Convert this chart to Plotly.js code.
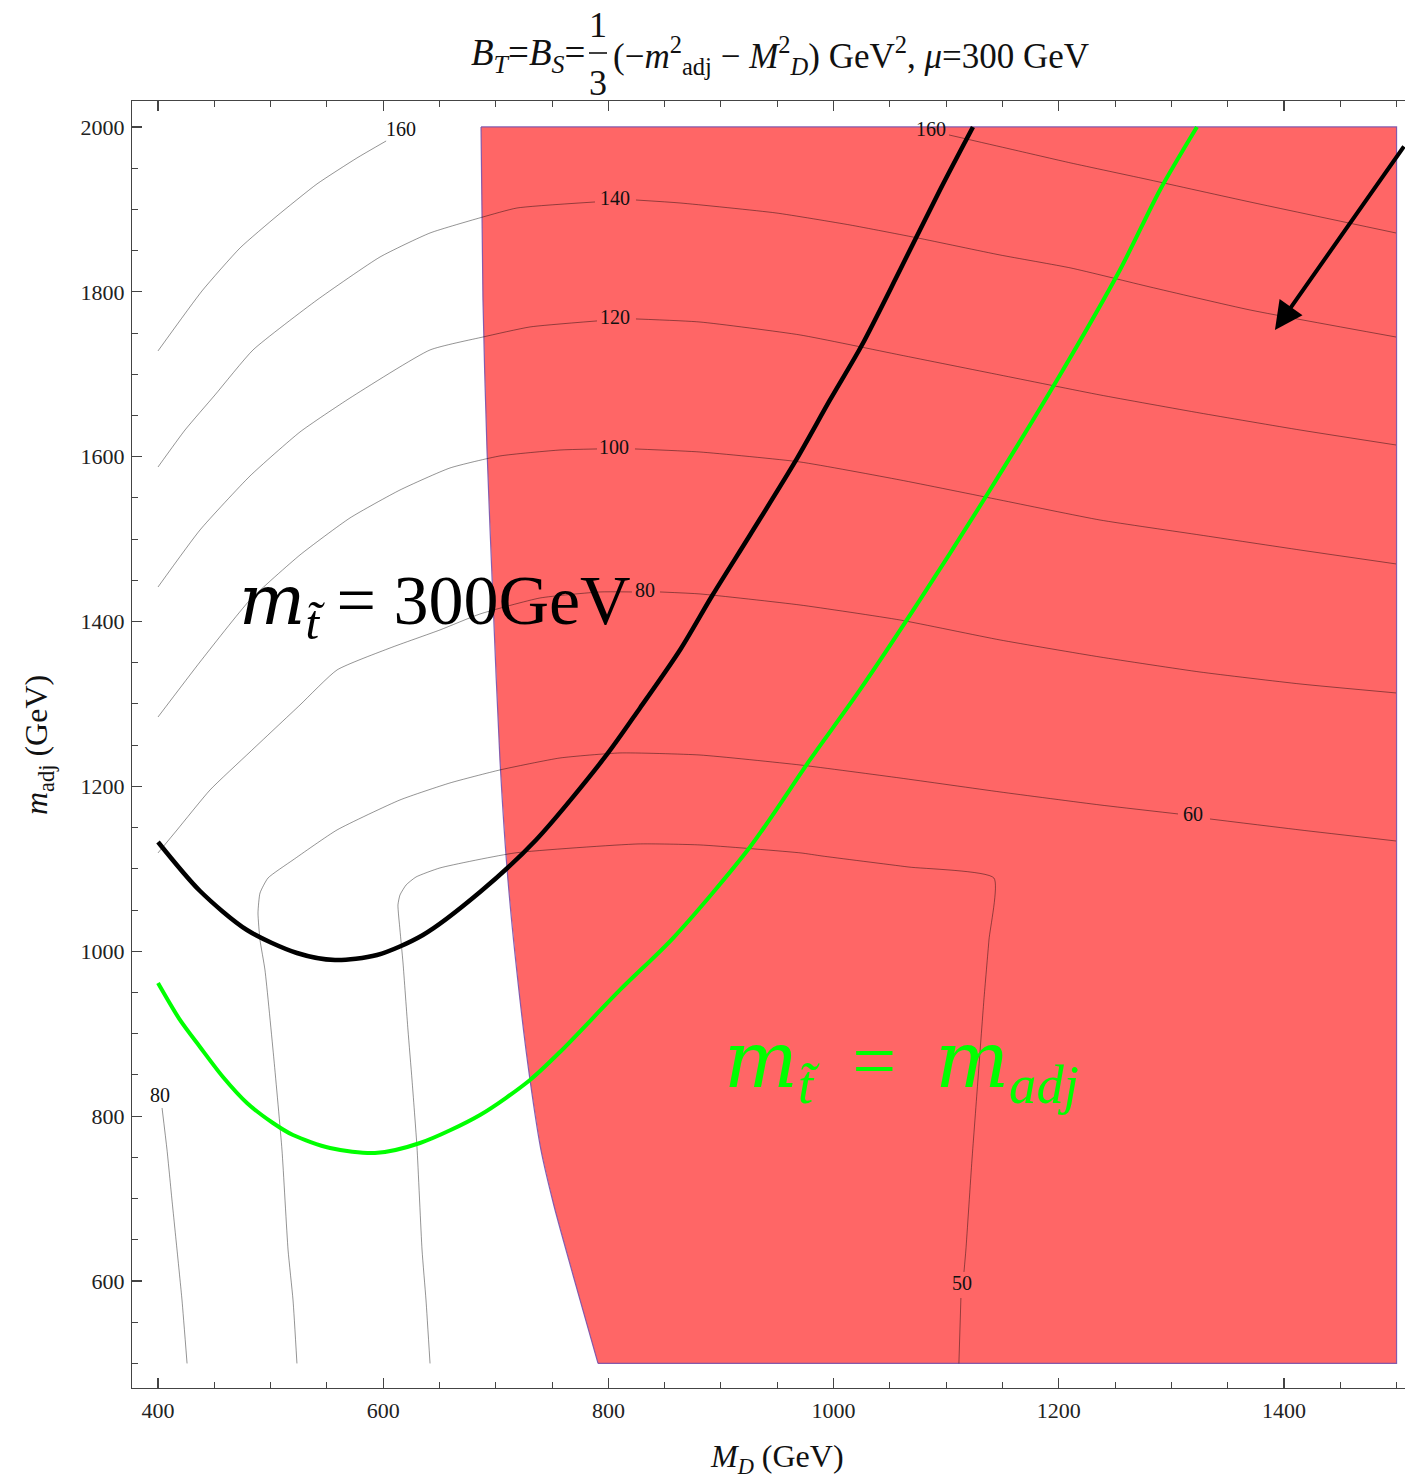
<!DOCTYPE html>
<html>
<head>
<meta charset="utf-8">
<script src="https://cdn.plot.ly/plotly-3.0.1.min.js"></script>
<style>html,body{margin:0;padding:0;background:#fff;}#chart{width:1405px;height:1480px;}</style>
</head>
<body>
<div id="chart"></div>
<script>
// ---------- data (GeV) ----------
// excluded (red) region: curved left boundary, then the straight corners
const exclEdgeX = [686.9, 688.6, 692.2, 697.5, 703.7, 710.8, 721.5, 730.4, 740.1, 751.5, 762.4, 774.8, 790.8];
const exclEdgeY = [2000, 1790.1, 1608.1, 1426.2, 1232.1, 1086.5, 940.9, 843.9, 759.0, 692.2, 637.6, 577.0, 500];
const exclCornerX = [790.8, 1500, 1500, 686.9];
const exclCornerY = [500, 500, 2000, 2000];

// m_stop = 300 GeV curve (black)
const stop300X = [400, 437.3, 479.0, 523.4, 557.2, 594.5, 635.3, 686.0, 735.7, 797.0, 828.1, 863.6, 892.0, 925.8, 965.7, 996.8, 1025.2, 1059.0, 1094.5, 1123.8];
const stop300Y = [1132.6, 1073.1, 1025.8, 997.9, 989.4, 995.5, 1019.8, 1071.9, 1135.0, 1235.7, 1295.2, 1365.5, 1431.0, 1505.0, 1593.6, 1668.8, 1735.5, 1826.5, 1923.6, 2000];

// m_stop = m_adj curve (green)
const stopAdjX = [400, 419.5, 437.3, 457.7, 479.0, 502.1, 519.9, 552.8, 592.7, 632.7, 686.0, 730.4, 757.0, 810.3, 858.3, 925.8, 979.0, 1023.4, 1076.7, 1138.9, 1201.1, 1254.3, 1289.9, 1322.7];
const stopAdjY = [961.5, 916.7, 883.9, 847.5, 816.0, 791.7, 777.1, 761.4, 755.3, 767.4, 801.4, 843.9, 877.8, 953.1, 1017.3, 1126.5, 1232.1, 1317.0, 1426.2, 1559.6, 1699.1, 1826.5, 1923.6, 2000];

// contour lines (Higgs mass, GeV)
const c160aX = [400, 439.1, 472.9, 505.7, 541.2, 576.7, 602.6];
const c160aY = [1728.3, 1801.1, 1853.3, 1892.1, 1930.9, 1962.4, 1983.0];
const c160bX = [1102.5, 1156.7, 1210.8, 1281.0, 1369.8, 1499.5];
const c160bY = [1990.3, 1973.3, 1956.3, 1935.7, 1909.0, 1871.4];
const c140X = [400, 424.0, 450.6, 484.4, 541.2, 597.2, 641.6, 688.6, 718.8, 788.1, null, 824.5, 863.6, 948.8, 1014.6, 1074.9, 1147.8, 1210.8, 1281.0, 1369.8, 1499.5];
const c140Y = [1587.5, 1632.4, 1674.9, 1729.5, 1790.1, 1842.3, 1871.4, 1890.8, 1901.7, 1909.0, null, 1911.4, 1907.8, 1895.7, 1881.1, 1865.3, 1844.7, 1828.9, 1805.9, 1778.0, 1745.2];
const c120X = [400, 437.3, 481.7, 526.1, 570.5, 641.6, 688.6, 730.4, 789.9, null, 824.5, 881.3, 970.2, 1059.0, 1147.8, 1236.6, 1325.4, 1414.2, 1499.5];
const c120Y = [1441.9, 1511.1, 1576.6, 1630.0, 1671.2, 1729.5, 1745.2, 1757.4, 1764.7, null, 1767.1, 1763.4, 1747.7, 1723.4, 1699.1, 1674.9, 1653.0, 1632.4, 1614.2];
const c100X = [400, 437.3, 481.7, 526.1, 570.5, 614.9, 659.3, 703.7, 757.0, 789.9, null, 823.6, 881.3, 970.2, 1059.0, 1147.8, 1236.6, 1325.4, 1414.2, 1499.5];
const c100Y = [1284.2, 1351.0, 1426.2, 1480.8, 1525.7, 1559.6, 1586.3, 1600.9, 1608.1, 1609.4, null, 1609.4, 1605.7, 1593.6, 1571.8, 1547.5, 1523.2, 1505.0, 1486.8, 1469.9];
const c80aX = [400, 416.9, 446.2, 481.7, 526.1, 559.0, 606.0, 650.4, 686.0, 739.3, 792.5, 820.9, null, 845.8, 881.3, 970.2, 1059.0, 1147.8, 1236.6, 1325.4, 1414.2, 1499.5];
const c80aY = [1119.3, 1147.2, 1195.7, 1241.8, 1298.8, 1341.3, 1367.9, 1389.8, 1409.2, 1428.6, 1435.9, 1435.9, null, 1435.9, 1433.5, 1420.1, 1401.9, 1377.7, 1357.0, 1338.8, 1324.3, 1313.4];
const c80bX = [403.6, 408.0, 412.4, 416.9, 421.3, 425.8];
const c80bY = [809.9, 759.0, 698.3, 637.6, 577.0, 500];
const c60X = [523.4, 519.9, 515.5, 510.1, 503.0, 495.0, 490.6, 488.8, 490.6, 497.7, 519.9, 559.0, 614.9, 659.3, 703.7, 757.0, 810.3, 881.3, 970.2, 1059.0, 1147.8, 1236.6, 1305.9, null, 1334.3, 1414.2, 1499.5];
const c60Y = [500, 577.0, 637.6, 759.0, 868.1, 977.3, 1013.7, 1046.5, 1070.7, 1088.9, 1110.8, 1147.2, 1183.6, 1204.2, 1220.0, 1234.5, 1240.6, 1238.1, 1226.0, 1210.2, 1193.3, 1177.5, 1166.6, null, 1160.5, 1147.2, 1133.8];
const c50X = [641.6, 638.0, 634.5, 630.0, 625.6, 622.0, 617.6, 614.9, 613.1, 614.9, 620.3, 629.1, 650.4, 717.0, 826.3, 881.3, 971.0, 989.7, 1066.1, 1142.4, 1138.0, 1133.5, 1128.2, 1122.9, 1117.5, 1115.8, null, 1113.1, 1111.3];
const c50Y = [500, 577.0, 637.6, 762.6, 843.9, 904.5, 985.8, 1025.8, 1056.2, 1068.3, 1080.4, 1090.1, 1101.1, 1119.3, 1130.2, 1129.0, 1119.3, 1115.6, 1102.3, 1088.9, 1013.7, 940.9, 843.9, 746.8, 637.6, 611.0, null, 579.4, 500];

// contour labels
const labelText = ["160", "160", "140", "120", "100", "80", "60", "50", "80"];
const labelX = [615.8, 1086.5, 805.9, 805.9, 805.0, 832.5, 1319.2, 1114.0, 401.8];
const labelY = [1995.1, 1995.1, 1911.4, 1767.1, 1609.4, 1435.9, 1164.1, 595.2, 823.2];

// arrow (head, tail)
const arrowHead = [1392.0, 1753.7];
const arrowTail = [1507.5, 1978.2];

// tick values
const xTicks = [400, 600, 800, 1000, 1200, 1400];
const yTicks = [600, 800, 1000, 1200, 1400, 1600, 1800, 2000];

// ---------- styles ----------
const SERIF = '"Liberation Serif", "Times New Roman", serif';
const WIDE = '"DejaVu Serif", serif';
const contourLine = {color: 'rgba(0,0,0,0.42)', width: 1, shape: 'spline', smoothing: 0.5};

function contour(x, y) {
  return {x: x, y: y, type: 'scatter', mode: 'lines', line: contourLine,
          hoverinfo: 'skip', showlegend: false, connectgaps: false};
}

const exclFillX = exclEdgeX.concat(exclCornerX.slice(1));
const exclFillY = exclEdgeY.concat(exclCornerY.slice(1));
const edgeColor = 'rgba(120,80,170,0.9)';

const traces = [
  {x: exclFillX, y: exclFillY, type: 'scatter', mode: 'lines', fill: 'toself',
   fillcolor: 'rgb(255,102,102)', line: {width: 0}, hoverinfo: 'skip', showlegend: false},
  {x: exclEdgeX, y: exclEdgeY, type: 'scatter', mode: 'lines',
   line: {color: edgeColor, width: 1.2, shape: 'spline', smoothing: 0.8}, hoverinfo: 'skip', showlegend: false},
  {x: exclCornerX, y: exclCornerY, type: 'scatter', mode: 'lines',
   line: {color: edgeColor, width: 1.2}, hoverinfo: 'skip', showlegend: false},
  contour(c160aX, c160aY),
  contour(c160bX, c160bY),
  contour(c140X, c140Y),
  contour(c120X, c120Y),
  contour(c100X, c100Y),
  contour(c80aX, c80aY),
  contour(c80bX, c80bY),
  contour(c60X, c60Y),
  contour(c50X, c50Y),
  {x: labelX, y: labelY, text: labelText, type: 'scatter', mode: 'text',
   textfont: {family: SERIF, size: 20, color: '#111'}, hoverinfo: 'skip', showlegend: false},
  {x: stop300X, y: stop300Y, type: 'scatter', mode: 'lines',
   line: {color: '#000', width: 4.5, shape: 'spline', smoothing: 0.8}, hoverinfo: 'skip', showlegend: false},
  {x: stopAdjX, y: stopAdjY, type: 'scatter', mode: 'lines',
   line: {color: '#00ff00', width: 4, shape: 'spline', smoothing: 0.8}, hoverinfo: 'skip', showlegend: false}
];

// paper-coordinate helpers for title pieces
const L = 132, W = 1273, T = 101, H = 1287;
const px = v => (v - L) / W;
const py = v => (T + H - v) / H;

const titleFont = {family: SERIF, size: 36, color: '#111'};
const mItal = '<span style="font-family:' + WIDE.replace(/"/g, "'") + '"><i>m</i></span>';

const layout = {
  width: 1405, height: 1480,
  margin: {l: L, r: 0, t: T, b: 1480 - T - H},
  paper_bgcolor: '#fff', plot_bgcolor: '#fff',
  showlegend: false,
  xaxis: {
    range: [376.9, 1507.5], tickvals: xTicks, showgrid: false, zeroline: false,
    showline: true, linecolor: '#444', linewidth: 1.2, mirror: 'ticks',
    ticks: 'inside', ticklen: 10, tickwidth: 1.2, tickcolor: '#444',
    minor: {ticks: 'inside', ticklen: 6, dtick: 50, tick0: 0, tickcolor: '#444', tickwidth: 1, showgrid: false},
    tickfont: {family: SERIF, size: 22, color: '#222'}, ticklabelstandoff: 2
  },
  yaxis: {
    range: [470.2, 2031.5], tickvals: yTicks, showgrid: false, zeroline: false,
    showline: true, linecolor: '#444', linewidth: 1.2, mirror: false,
    ticks: 'inside', ticklen: 10, tickwidth: 1.2, tickcolor: '#444',
    minor: {ticks: 'inside', ticklen: 6, dtick: 50, tick0: 0, tickcolor: '#444', tickwidth: 1, showgrid: false},
    tickfont: {family: SERIF, size: 22, color: '#222'}, ticklabelstandoff: 2
  },
  shapes: [
    {type: 'line', xref: 'paper', yref: 'paper', x0: px(589), x1: px(607), y0: py(53), y1: py(53),
     line: {color: '#111', width: 1.6}}
  ],
  annotations: [
    // title pieces
    {xref: 'paper', yref: 'paper', x: px(587), y: py(55), xanchor: 'right', yanchor: 'middle', showarrow: false,
     text: '<i>B</i><sub><i>T</i></sub>=<i>B</i><sub><i>S</i></sub>=', font: {family: SERIF, size: 37, color: '#111'}},
    {xref: 'paper', yref: 'paper', x: px(598), y: py(25), xanchor: 'center', yanchor: 'middle', showarrow: false,
     text: '1', font: titleFont},
    {xref: 'paper', yref: 'paper', x: px(598), y: py(83), xanchor: 'center', yanchor: 'middle', showarrow: false,
     text: '3', font: titleFont},
    {xref: 'paper', yref: 'paper', x: px(611), y: py(55), xanchor: 'left', yanchor: 'middle', showarrow: false,
     text: '(−<i>m</i><sup>2</sup><sub>adj</sub> − <i>M</i><sup>2</sup><sub><i>D</i></sub>) GeV<sup>2</sup>, <i>μ</i>=300 GeV', font: {family: SERIF, size: 35, color: '#111'}},
    // axis titles
    {xref: 'paper', yref: 'paper', x: px(777), y: py(1458), xanchor: 'center', yanchor: 'middle', showarrow: false,
     text: '<i>M</i><sub><i>D</i></sub> (GeV)', font: {family: SERIF, size: 32, color: '#111'}},
    {xref: 'paper', yref: 'paper', x: px(38), y: py(745), xanchor: 'center', yanchor: 'middle', showarrow: false,
     textangle: -90, text: '<i>m</i><sub>adj</sub> (GeV)', font: {family: SERIF, size: 32, color: '#111'}},
    // in-plot labels
    {xref: 'x', yref: 'y', x: 646.0, y: 1420.1, xanchor: 'center', yanchor: 'middle', showarrow: false,
     text: mItal + '<sub><i>t̃</i></sub> = 300GeV', font: {family: SERIF, size: 70, color: '#000'}},
    {xref: 'x', yref: 'y', x: 1060.7, y: 862.1, xanchor: 'center', yanchor: 'middle', showarrow: false,
     text: mItal + '<sub><i>t̃</i></sub>  =  ' + mItal + '<sub><i>adj</i></sub>', font: {family: SERIF, size: 78, color: '#00ff00'}},
    // arrow
    {xref: 'x', yref: 'y', axref: 'x', ayref: 'y', x: arrowHead[0], y: arrowHead[1], ax: arrowTail[0], ay: arrowTail[1],
     text: '', showarrow: true, arrowhead: 2, arrowsize: 1.4, arrowwidth: 4, arrowcolor: '#000'}
  ]
};

Plotly.newPlot('chart', traces, layout, {staticPlot: true, displayModeBar: false});
</script>
</body>
</html>
